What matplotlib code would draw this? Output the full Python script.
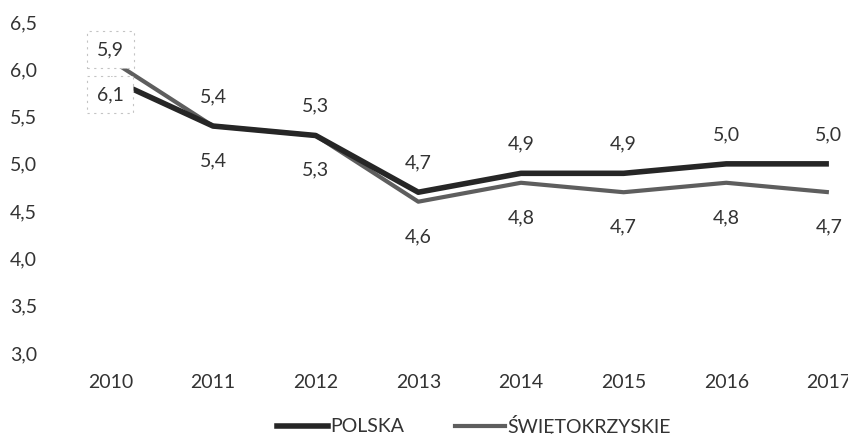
import matplotlib
matplotlib.use('Agg')
import matplotlib.pyplot as plt
from matplotlib.lines import Line2D

plt.rcParams['font.family'] = ['Lato', 'DejaVu Sans']

# Data
years = ['2010', '2011', '2012', '2013', '2014', '2015', '2016', '2017']
polska = [5.9, 5.4, 5.3, 4.7, 4.9, 4.9, 5.0, 5.0]
swietokrzyskie = [6.1, 5.4, 5.3, 4.6, 4.8, 4.7, 4.8, 4.7]
y_ticks = [3.0, 3.5, 4.0, 4.5, 5.0, 5.5, 6.0, 6.5]

dark = '#262626'
grey = '#5e5e5e'
fs = 14

fig = plt.figure(figsize=(8.48, 4.34), dpi=100)
ax = fig.add_axes([59 / 848, 81 / 434, (848 - 59) / 848, 331 / 434])

x = list(range(len(years)))
ax.plot(x, swietokrzyskie, color=grey, lw=3, solid_capstyle='butt', zorder=2)
ax.plot(x, polska, color=dark, lw=4, solid_capstyle='butt', zorder=3)

# data labels: Polska above, Świętokrzyskie below
for i in x:
    box = None
    if i == 0:
        box = dict(boxstyle='square,pad=0.5', fc='white', ec='#c4c4c4', lw=0.8, ls=(0, (2, 4)))
    ax.annotate(f'{polska[i]:.1f}'.replace('.', ','), (i, polska[i]), xytext=(0, 21),
                textcoords='offset points', ha='center', va='center', fontsize=fs,
                color='#333333', bbox=box, zorder=5)
    ax.annotate(f'{swietokrzyskie[i]:.1f}'.replace('.', ','), (i, swietokrzyskie[i]), xytext=(0, -25),
                textcoords='offset points', ha='center', va='center', fontsize=fs,
                color='#333333', bbox=box, zorder=5)

ax.set_xlim(-0.5, (848 - 110) / 102.7)
ax.set_ylim(3.0, 6.5)
ax.set_xticks(x)
ax.set_xticklabels(years)
ax.set_yticks(y_ticks)
ax.set_yticklabels([f'{v:.1f}'.replace('.', ',') for v in y_ticks])
ax.tick_params(length=0, labelsize=fs, colors='#333333')
ax.tick_params(axis='x', pad=15)
ax.tick_params(axis='y', pad=16)
for s in ax.spines.values():
    s.set_visible(False)

handles = [Line2D([], [], color=dark, lw=4), Line2D([], [], color=grey, lw=3)]
fig.legend(handles, ['POLSKA', 'ŚWIĘTOKRZYSKIE'], loc='center', bbox_to_anchor=(474 / 848, 1 - 425 / 434),
           ncol=2, frameon=False, fontsize=fs, handlelength=2.6, handletextpad=0.1,
           columnspacing=2.6, labelcolor='#333333')

fig.savefig('out.png', dpi=100)
